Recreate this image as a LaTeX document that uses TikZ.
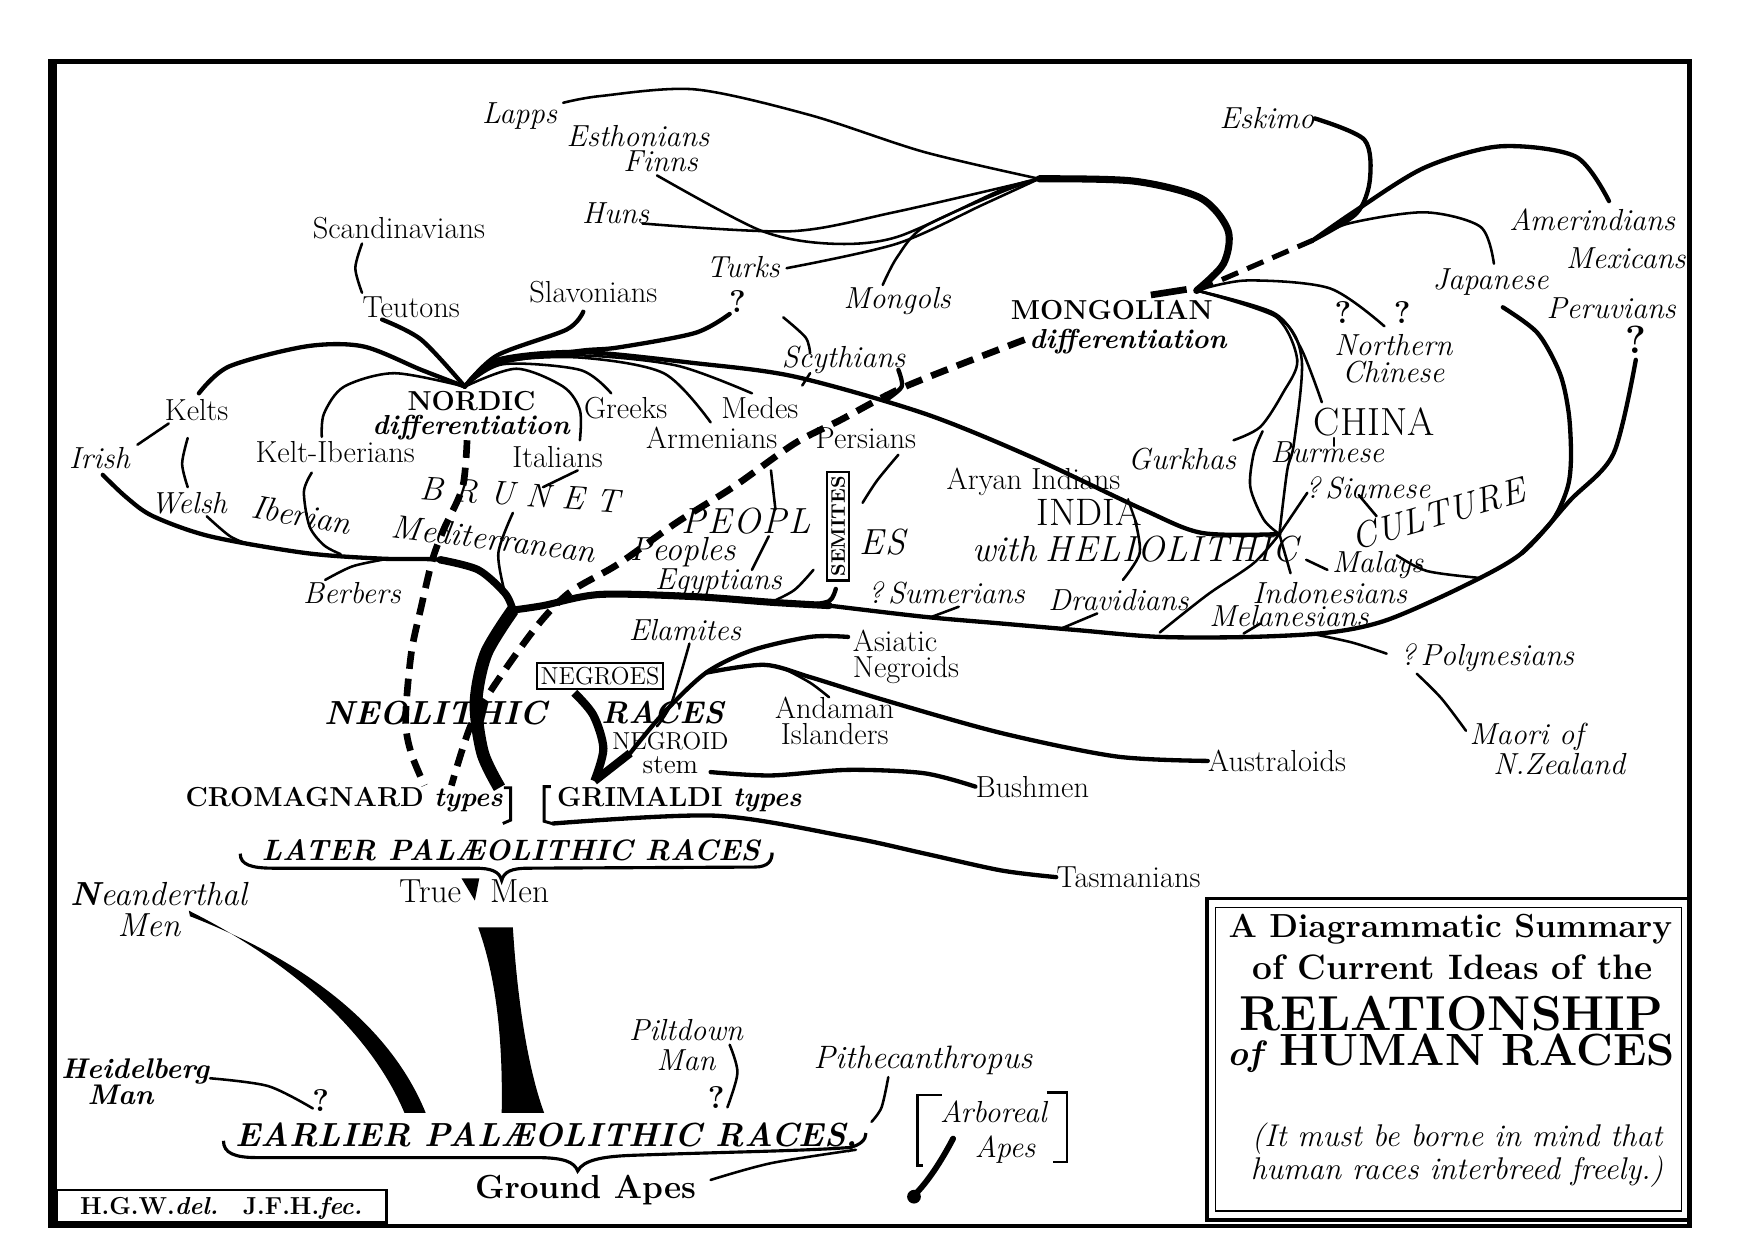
\documentclass[tikz,border=0pt]{standalone}
\usepackage{fontspec}
\usetikzlibrary{positioning}

\begin{document}
\begin{tikzpicture}[x=0.02cm, y=-0.02cm,
    lbl/.style={font=\fontsize{15.5}{13.5}\selectfont, inner sep=0pt},
    itl/.style={font=\fontsize{15.5}{13.5}\selectfont\itshape, inner sep=0pt},
    bcap/.style={font=\fontsize{14}{14}\selectfont\bfseries, inner sep=0pt},
    qmark/.style={font=\fontsize{16}{16}\selectfont\bfseries, inner sep=0pt},
    spaced/.style={font=\fontsize{18.5}{19}\selectfont\itshape, inner sep=0pt},
    paleo/.style={font=\fontsize{15}{16}\selectfont\bfseries\itshape, inner sep=0pt},
    ttl/.style={font=\fontsize{17}{18}\selectfont\bfseries, inner sep=0pt},
    boxed/.style={draw, line width=1.2pt, inner sep=2pt},
    br/.style={line width=1.3pt, line cap=round, line join=round},
    brm/.style={line width=2.2pt, line cap=round, line join=round},
    brk/.style={line width=3.6pt, line cap=round, line join=round},
    dsh/.style={line width=3.4pt, dash pattern=on 9pt off 5pt}
  ]
  \fill[white] (0,0) rectangle (1568,1103);
  \useasboundingbox (0,0) rectangle (1568,1103);

  % frame and boxes
  \draw[line width=2.2pt] (45,55) rectangle (1512,1097);
  \draw[line width=4.5pt] (47,55) -- (47,1097);
  \draw[line width=1.8pt] (1080,804) rectangle (1512,1092);
  \draw[line width=0.8pt] (1088,812) rectangle (1505,1084);
  \draw[line width=1.2pt] (51,1065) rectangle (346,1094);

  % title
  \node[ttl] (t1) at (1298,832) {A Diagrammatic Summary};
  \node[ttl, font=\fontsize{18}{18}\selectfont\bfseries] (t2) at (1300,866) {of Current Ideas of the};
  \node[font=\fontsize{25}{25}\selectfont\bfseries, inner sep=0pt] (t3) at (1299,907) {RELATIONSHIP};
  \node[font=\fontsize{23}{23}\selectfont\bfseries, inner sep=0pt] (t4) at (1299,943) {{\fontsize{18}{18}\selectfont\itshape of} HUMAN RACES};
  \node[itl, font=\fontsize{16}{13.6}\selectfont\itshape, align=center] (t5) at (1304,1034) {(It must be borne in mind that\\human races interbreed freely.)};
  \node[bcap, font=\fontsize{12.5}{13}\selectfont\bfseries] (credit) at (198,1081) {H.G.W.\textit{del.}\quad J.F.H.\textit{fec.}};

  % northern labels
  \node[itl] (lapps) at (465,104) {Lapps};
  \node[itl, font=\fontsize{15.5}{13}\selectfont\itshape, align=center] (esth) at (571,133) {Esthonians\\\hspace*{23pt}Finns};
  \node[itl] (huns) at (551,191) {Huns};
  \node[lbl] (scand) at (357,204) {Scandinavians};
  \node[lbl] (teut) at (368,275) {Teutons};
  \node[lbl] (slav) at (531,261) {Slavonians};
  \node[itl] (turks) at (665,239) {Turks};
  \node[qmark] (turksq) at (660,270) {?};
  \node[itl] (mongols) at (803,269) {Mongols};
  \node[itl] (scyth) at (755,322) {Scythians};
  \node[itl] (eskimo) at (1134,106) {Eskimo};
  \node[itl] (amer) at (1425,197) {Amerindians};
  \node[itl] (mexic) at (1455,231) {Mexicans};
  \node[itl] (japan) at (1334,252) {Japanese};
  \node[itl] (peru) at (1442,276) {Peruvians};
  \node[qmark, font=\fontsize{20}{20}\selectfont\bfseries] (peruq) at (1464,304) {?};
  \node[bcap, font=\fontsize{14}{14.8}\selectfont\bfseries, align=center] (mong) at (995,293) {MONGOLIAN\\\hspace*{17pt}\textit{differentiation}};
  \node[qmark] (ncq1) at (1202,280) {?};
  \node[qmark] (ncq2) at (1255,280) {?};
  \node[itl, font=\fontsize{15.5}{13.6}\selectfont\itshape, align=center] (north) at (1247,321) {Northern\\Chinese};

  % nordic and brunet labels
  \node[lbl] (kelts) at (176,367) {Kelts};
  \node[bcap, font=\fontsize{14}{12.5}\selectfont\bfseries, align=center] (nordic) at (422,372) {NORDIC\\\textit{differentiation}};
  \node[lbl] (greeks) at (560,365) {Greeks};
  \node[lbl] (medes) at (680,365) {Medes};
  \node[lbl] (armen) at (637,392) {Armenians};
  \node[lbl] (pers) at (775,392) {Persians};
  \node[itl] (irish) at (89,410) {Irish};
  \node[lbl] (keltib) at (300,405) {Kelt-Iberians};
  \node[lbl] (ital) at (499,409) {Italians};
  \node[itl] (welsh) at (169,450) {Welsh};
  \node[itl, font=\fontsize{17}{17}\selectfont\itshape, rotate=-10] (iber) at (270,461) {Iberian};
  \node[itl, font=\fontsize{17}{17}\selectfont\itshape, rotate=-7] (medit) at (442,482) {Mediterranean};
  \node[itl, font=\fontsize{17}{17}\selectfont\itshape] (peoples) at (611,494) {Peoples};
  \node[spaced, font=\fontsize{17}{17}\selectfont\itshape, rotate=-4] (brunet) at (465,443) {B\kern6pt R\kern6pt U\kern6pt N\kern6pt E\kern6pt T};
  \node[itl] (berb) at (315,531) {Berbers};
  \node[itl] (egypt) at (643,521) {Egyptians};

  % heliolithic labels
  \node[spaced] (peopl) at (668,466) {P\kern1pt E\kern1pt O\kern1pt P\kern1pt L};
  \node[boxed, rotate=90, font=\fontsize{10}{10}\selectfont\bfseries] (semites) at (750,471) {SEMITES};
  \node[spaced] (es) at (790,485) {E\kern1pt S};
  \node[spaced] (with) at (899,491) {with};
  \node[spaced] (helio) at (1049,491) {H\kern0.6pt E\kern0.6pt L\kern0.6pt I\kern0.6pt O\kern0.6pt L\kern0.6pt I\kern0.6pt T\kern0.6pt H\kern0.6pt I\kern0.6pt C};
  % CULTURE set letter by letter along its slanted line
  \foreach \ch/\dx in {C/0,U/23.5,L/45.5,T/67.5,U/91,R/115,E/138} {
    \node[spaced, rotate=16] (cult-\dx) at ({1221+\dx*0.961},{479-\dx*0.276}) {\ch};
  }
  \node[lbl] (aryan) at (925,431) {Aryan Indians};
  \node[lbl, font=\fontsize{19.5}{20}\selectfont] (india) at (975,458) {INDIA};
  \node[lbl, font=\fontsize{20}{20}\selectfont] (china) at (1230,378) {CHINA};
  \node[itl] (gurkh) at (1058,411) {Gurkhas};
  \node[itl] (burm) at (1188,405) {Burmese};
  \node[itl] (siam) at (1224,437) {?\,Siamese};
  \node[itl] (malays) at (1233,506) {Malays};
  \node[itl] (sumer) at (847,531) {?\,Sumerians};
  \node[itl] (drav) at (1001,537) {Dravidians};
  \node[itl, font=\fontsize{15.5}{12}\selectfont\itshape, align=left, anchor=west] (indon) at (1082,541) {\hspace*{22pt}Indonesians\\Melanesians};
  \node[itl] (polyn) at (1331,589) {?\,Polynesians};
  \node[itl, font=\fontsize{15.5}{15.4}\selectfont\itshape, align=left, anchor=west] (maori) at (1315,670) {Maori of\\\hspace*{12pt}N.Zealand};

  % negroid labels
  \node[itl] (elam) at (613,564) {Elamites};
  \node[lbl, font=\fontsize{15.5}{13}\selectfont, align=left, anchor=west] (asiatic) at (763,588) {Asiatic\\Negroids};
  \node[boxed, font=\fontsize{12.5}{13}\selectfont] (negroes) at (537,605) {NEGROES};
  \node[lbl, font=\fontsize{15.5}{13}\selectfont, align=center] (andaman) at (747,645) {Andaman\\Islanders};
  \node[lbl, font=\fontsize{12.5}{12}\selectfont, align=center] (negroid) at (600,674) {NEGROID\\{\fontsize{14}{12}\selectfont stem}};
  \node[lbl] (austr) at (1143,681) {Australoids};
  \node[lbl] (bush) at (924,704) {Bushmen};
  \node[paleo, font=\fontsize{17}{17}\selectfont\bfseries\itshape] (neolit) at (390,638) {NEOLITHIC};
  \node[paleo, font=\fontsize{16}{16}\selectfont\bfseries\itshape] (races) at (593,638) {RACES};

  % palaeolithic labels
  \node[bcap] (cromag) at (308,716) {CROMAGNARD \textit{types}};
  \node[bcap] (grim) at (608,716) {GRIMALDI \textit{types}};
  \node[paleo] (later) at (457,761) {LATER PAL\AE OLITHIC RACES};
  \node[lbl, font=\fontsize{17}{17}\selectfont] (true) at (385,798) {True};
  \node[lbl, font=\fontsize{17}{17}\selectfont] (truemen) at (465,798) {Men};
  \node[itl, font=\fontsize{17}{15.4}\selectfont\itshape, align=center] (neand) at (142,814) {{\bfseries N}eanderthal\\\hspace*{-10pt}Men};
  \node[lbl] (tasm) at (1010,785) {Tasmanians};
  \node[itl, font=\fontsize{15.5}{15.4}\selectfont\itshape, align=center] (pilt) at (614,935) {Piltdown\\Man};
  \node[qmark] (piltq) at (641,982) {?};
  \node[itl, font=\fontsize{16.5}{17}\selectfont\itshape] (pith) at (826,949) {Pithecanthropus};
  \node[bcap, font=\fontsize{14.5}{13.6}\selectfont\bfseries\itshape, align=center] (heid) at (121,968) {Heidelberg\\\hspace*{-15pt}Man};
  \node[qmark] (heidq) at (287,985) {?};
  \node[paleo, font=\fontsize{17}{18}\selectfont\bfseries\itshape] (earlier) at (489,1018) {EARLIER PAL\AE OLITHIC RACES,};
  \node[itl, font=\fontsize{15.5}{17.6}\selectfont\itshape, align=center] (arbor) at (889,1013) {Arboreal\\\hspace*{12pt}Apes};
  \node[bcap, font=\fontsize{17}{17}\selectfont\bfseries] (ground) at (524,1065) {Ground Apes};

  % junctions
  \coordinate (N) at (416,346);
  \coordinate (J) at (459,546);
  \coordinate (C) at (930,160);
  \coordinate (M) at (1071,260);
  \coordinate (D) at (1175,215);
  \coordinate (H) at (1145,478);
  \coordinate (R) at (1362,495);

  % trunk, neanderthal and apes
  \fill (428,830) .. controls (446,880) and (450,940) .. (449,996) -- (487,996) .. controls (470,950) and (462,880) .. (459,830) -- cycle;
  \fill (413,786) -- (429,786) -- (425,806) -- cycle;
  \fill (169,815) .. controls (255,858) and (330,920) .. (362,996) -- (381,996) .. controls (348,915) and (268,858) .. (170,820) -- cycle;
  \draw[line width=3pt, line cap=round] (853,1019) .. controls (842,1040) and (830,1058) .. (818,1070);
  \fill (818,1071) circle (3.5pt);
  \draw[line width=1.4pt] (843,980) -- (821,980) -- (821,1043) -- (826,1043);
  \draw[line width=1.4pt] (937,978) -- (955,978) -- (955,1040) -- (942,1040);
  \draw[br] plot[smooth] coordinates {(188,965) (240,972) (280,992)};
  \draw[br] plot[smooth] coordinates {(653,935) (660,960) (651,991)};
  \draw[br] plot[smooth] coordinates {(795,964) (789,991) (780,1004)};
  \draw[br] plot[smooth] coordinates {(636,1056) (690,1041) (766,1029)};

  % braces
  \draw[line width=1.6pt] (215,764) .. controls (215,774) and (225,777) .. (245,777) -- (425,777)
    .. controls (440,777) and (447,780) .. (449,788) .. controls (451,780) and (458,777) .. (473,777)
    -- (675,776) .. controls (688,776) and (691,770) .. (691,763);
  \draw[line width=1.6pt] (200,1021) .. controls (200,1032) and (210,1036) .. (230,1036) -- (480,1036)
    .. controls (505,1036) and (514,1040) .. (517,1048) .. controls (522,1038) and (540,1035) .. (565,1034)
    .. controls (650,1031) and (720,1030) .. (760,1027) .. controls (770,1025) and (775,1020) .. (775,1014);

  % brackets of the types
  \draw[line width=1.5pt] (451,705) -- (457,705) -- (457,734) -- (450,737);
  \draw[line width=1.5pt] (493,704) -- (487,704) -- (487,735) -- (494,737);

  % neolithic stem and dashed lines
  \draw[line width=6.5pt] plot[smooth] coordinates {(447,705) (432,674) (426,629) (435,585) (J)};
  \draw[dsh] plot[smooth] coordinates {(418,394) (414,436) (397,474) (387,501) (377,543) (368,585) (363,644) (368,674) (380,703)};
  \draw[dsh] plot[smooth] coordinates {(917,304) (810,346) (752,376) (711,397) (656,436) (605,468) (553,505) (510,530) (480,561) (442,614) (421,650) (404,703)};
  \draw[dsh, line width=2.6pt] (M) -- (D);
  \draw[line width=3.4pt] (1030,264) -- (1062,259);

  % iberian mediterranean branch
  \draw[brm] plot[smooth] coordinates {(J) (452,531) (428,510) (394,501) (342,500) (274,495) (188,480) (137,462) (113,445) (92,425)};
  \draw[line width=3.8pt, line cap=round] plot[smooth] coordinates {(J) (452,531) (428,510) (394,501)};
  \draw[br] plot[smooth] coordinates {(185,462) (206,480) (225,488)};
  \draw[br] plot[smooth] coordinates {(279,423) (272,440) (277,471) (290,488) (305,496)};
  \draw[br] plot[smooth] coordinates {(291,519) (315,507) (342,501)};
  \draw[br] plot[smooth] coordinates {(517,421) (486,436)};
  \draw[br] plot[smooth] coordinates {(459,459) (446,495) (452,531)};

  % nordic fan
  \draw[br] plot[smooth] coordinates {(324,218) (318,240) (324,262)};
  \draw[brm] plot[smooth] coordinates {(342,286) (377,304) (N)};
  \draw[brm] plot[smooth] coordinates {(522,279) (507,295) (445,318) (N)};
  \draw[brm] plot[smooth] coordinates {(178,352) (205,328) (274,310) (325,310) (377,331) (N)};
  \draw[br] plot[smooth] coordinates {(N) (353,334) (308,346) (290,370) (288,391)};
  \draw[br] plot[smooth] coordinates {(N) (462,330) (504,346) (519,367) (519,394)};
  \draw[br] plot[smooth] coordinates {(151,379) (123,398)};
  \draw[br] plot[smooth] coordinates {(168,392) (163,415) (168,436)};
  \draw[brm] plot[smooth] coordinates {(N) (445,325) (519,314) (553,311) (622,298) (653,281)};
  \draw[br] plot[smooth] coordinates {(N) (450,326) (519,331) (547,352)};
  \draw[br] plot[smooth] coordinates {(N) (450,324) (519,320) (594,334) (636,378)};
  \draw[br] plot[smooth] coordinates {(N) (450,323) (519,318) (605,327) (673,352)};
  \draw[brm] plot[smooth] coordinates {(N) (445,322) (519,315) (622,325) (711,337) (827,370) (923,409) (1023,456) (1076,477) (H)};
  \draw[br] plot[smooth] coordinates {(701,284) (721,302) (725,316)};
  \draw[br] plot[smooth] coordinates {(725,334) (718,345)};
  \draw[brm] plot[smooth] coordinates {(804,331) (807,346) (793,358)};

  % mongolian branches
  \draw[br] plot[smooth] coordinates {(504,92) (537,86) (622,80) (725,103) (827,136) (C)};
  \draw[br] plot[smooth] coordinates {(575,200) (707,207) (800,190) (C)};
  \draw[br] plot[smooth] coordinates {(588,157) (680,206) (742,218) (803,212) (896,170) (C)};
  \draw[br] plot[smooth] coordinates {(704,240) (803,218) (880,183) (C)};
  \draw[br] plot[smooth] coordinates {(790,255) (803,230) (827,203) (896,172) (C)};
  \draw[brk] plot[smooth] coordinates {(C) (1014,162) (1074,177) (1099,206) (1095,236) (M)};
  \draw[brm] plot[smooth] coordinates {(eskimo.east) (1221,125) (1226,161) (1214,191) (D)};
  \draw[brm] plot[smooth] coordinates {(1440,180) (1410,140) (1342,131) (1275,150) (1214,188) (D)};
  \draw[br] plot[smooth] coordinates {(1337,236) (1325,203) (1275,190) (1207,200) (D)};
  \draw[br] plot[smooth] coordinates {(M) (1116,251) (1190,258) (1239,292)};
  \draw[br] plot[smooth] coordinates {(M) (1140,280) (1164,311) (1183,360)};
  \draw[br] plot[smooth] coordinates {(M) (1140,282) (1161,322) (1148,352) (1128,382) (1104,394)};
  \draw[br] plot[smooth] coordinates {(1130,386) (1122,406) (1119,436) (1131,465) (H)};
  \draw[br] plot[smooth] coordinates {(M) (1145,285) (1165,322) (1158,397) (1152,421) (H)};
  \draw[br] (1194,392) -- (1194,399);
  \draw[br] plot[smooth] coordinates {(1170,441) (H)};

  % heliolithic main line
  \draw[brk] plot[smooth] coordinates {(J) (486,542) (537,532) (622,534) (690,539) (742,542)};
  \draw[brm] plot[smooth] coordinates {(742,542) (827,552) (896,558) (965,564) (1038,570) (1120,570) (1190,566) (1241,555) (1309,525) (R) (1405,448) (1444,406) (1464,322)};
  \draw[brm] plot[smooth] coordinates {(1345,275) (1376,298) (1396,334) (1404,370) (1406,409) (1403,436) (1390,465) (R)};
  \draw[br] plot[smooth] coordinates {(H) (1122,504) (1081,532) (1038,566)};
  \draw[br] (H) -- (1155,513);
  \draw[br] plot[smooth] coordinates {(1128,558) (1113,567)};
  \draw[br] plot[smooth] coordinates {(982,549) (951,562)};
  \draw[br] plot[smooth] coordinates {(1016,466) (1020,495) (1005,519)};
  \draw[br] plot[smooth] coordinates {(1169,501) (1188,510)};
  \draw[br] plot[smooth] coordinates {(1250,497) (1277,511) (1322,517)};
  \draw[br] plot[smooth] coordinates {(1216,443) (1232,462)};
  \draw[br] plot[smooth] coordinates {(1173,567) (1210,575) (1241,585)};
  \draw[br] plot[smooth] coordinates {(1268,603) (1290,625) (1312,654)};
  \draw[br] plot[smooth] coordinates {(804,407) (785,430) (772,450)};
  \draw[br] plot[smooth] coordinates {(690,421) (694,456)};
  \draw[br] plot[smooth] coordinates {(688,480) (673,510)};
  \draw[brm] plot[smooth] coordinates {(748,527) (742,538) (720,542)};
  \draw[br] plot[smooth] coordinates {(728,510) (711,528) (690,539)};
  \draw[br] plot[smooth] coordinates {(858,543) (834,552)};

  % negroid branches
  \draw[line width=4.2pt] plot[smooth] coordinates {(514,620) (531,640) (540,670) (532,699)};
  \draw[line width=4.2pt] (564,674) -- (532,699);
  \draw[br] plot[smooth] coordinates {(617,576) (601,629) (588,650)};
  \draw[brm] plot[smooth] coordinates {(759,570) (725,570) (673,582) (632,602) (594,638) (564,674)};
  \draw[brm] plot[smooth] coordinates {(632,602) (684,595) (725,606) (793,627) (896,656) (999,677) (austr.west)};
  \draw[br] plot[smooth] coordinates {(701,598) (725,611) (742,624)};
  \draw[brm] plot[smooth] coordinates {(636,691) (690,694) (759,689) (827,692) (bush.west)};
  \draw[brm] plot[smooth] coordinates {(495,737) (640,730) (759,749) (828,764) (896,779) (tasm.west)};
\end{tikzpicture}
\end{document}
